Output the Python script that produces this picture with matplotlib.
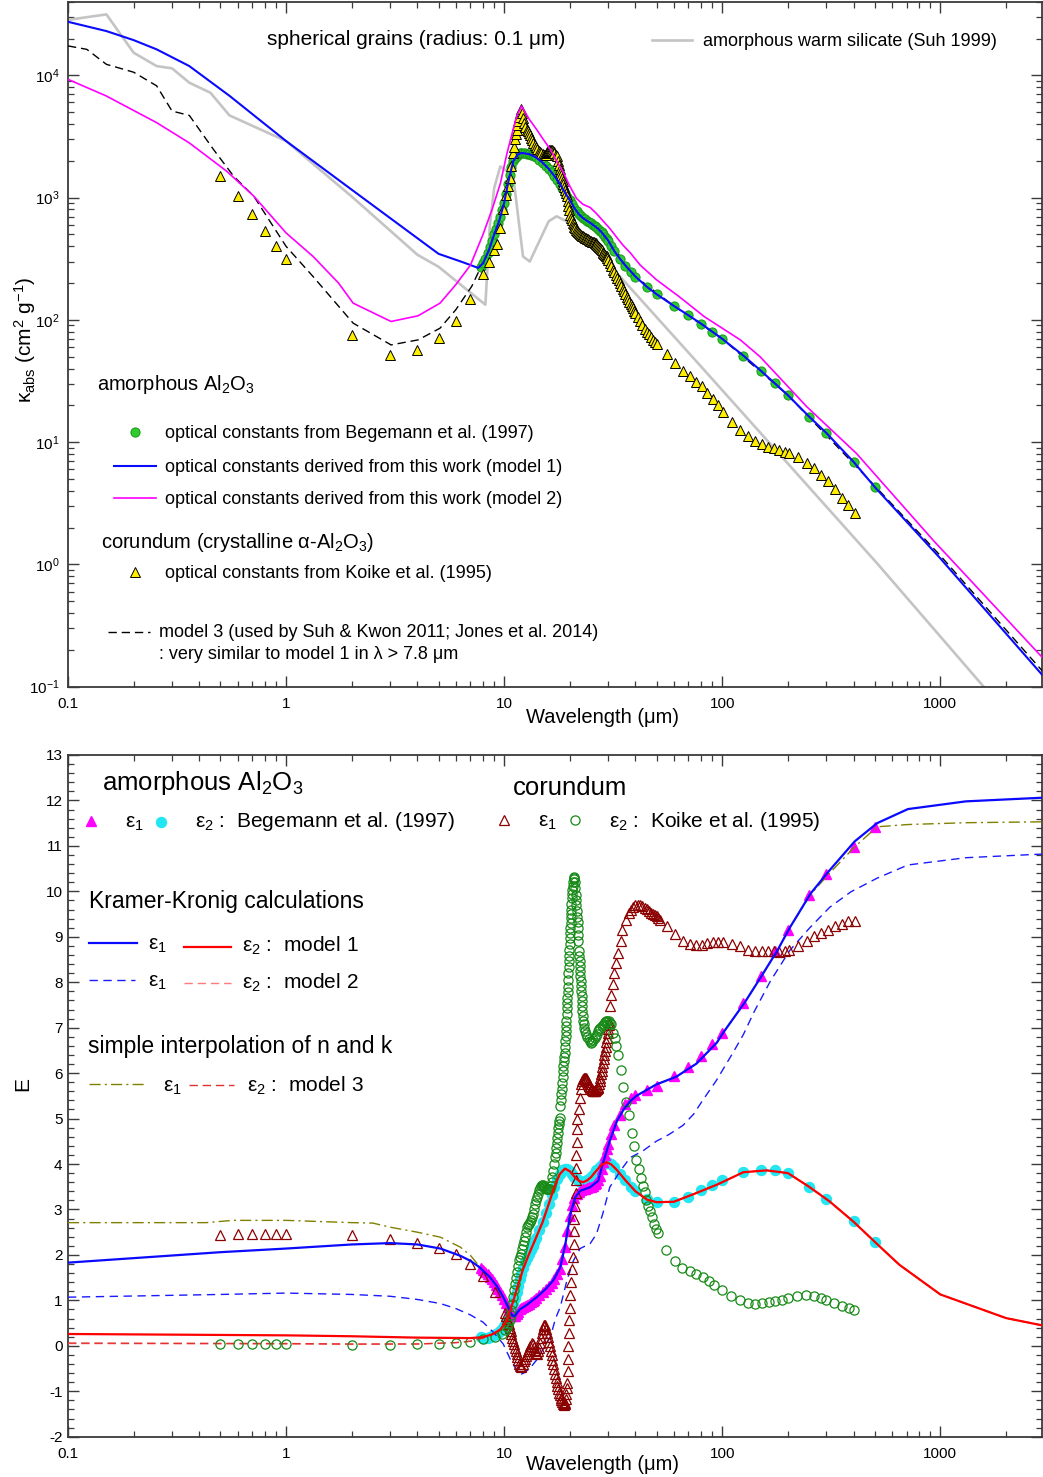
import numpy as np
import matplotlib
matplotlib.use("Agg")
import matplotlib.pyplot as plt
from matplotlib.lines import Line2D
from matplotlib.ticker import LogLocator, MultipleLocator, NullFormatter, FuncFormatter, FixedLocator

plt.rcParams['font.family'] = ['Liberation Sans', 'DejaVu Sans']
plt.rcParams['mathtext.fontset'] = 'custom'
plt.rcParams['mathtext.rm'] = 'Liberation Sans'
plt.rcParams['mathtext.it'] = 'Liberation Sans:italic'
plt.rcParams['mathtext.default'] = 'regular'
plt.rcParams['axes.unicode_minus'] = False

# ---------------- top panel data: kappa_abs (cm^2/g) ----------------
suh_wl = [0.1, 0.15, 0.2, 0.255, 0.3, 0.36, 0.45, 0.55, 1.0, 2.0, 4.0, 5.0, 8.2, 8.6, 9.0, 9.6, 11.0,
          12.2, 13.1, 16.0, 17.4, 20.0, 23.9, 27.6, 34.0, 88.0, 513.0, 1580.0]
suh_k = [2.84e4, 3.15e4, 1.53e4, 1.19e4, 1.14e4, 8.7e3, 7.2e3, 4.7e3, 2.9e3, 1.02e3, 341, 272, 133, 600,
         1.2e3, 1.8e3, 1.5e3, 330, 300, 640, 703, 620, 452, 330, 226, 34.3, 1.02, 0.1]

m1_wl = [0.1, 0.15, 0.2, 0.255, 0.36, 0.55, 1.0, 2.0, 3.0, 5.0, 6.5, 7.6, 8.0, 8.5, 9.0, 9.5, 10.0, 10.5,
         11.0, 11.5, 12.0, 13.0, 14.0, 15.0, 16.0, 17.0, 18.0, 19.0, 20.0, 21.0, 22.0, 23.0, 24.0, 25.0,
         26.0, 27.0, 28.0, 29.0, 30.0, 32.0, 34.0, 36.0, 40.0, 45.0, 50.0, 60.0, 70.0, 80.0, 100.0, 125.0,
         150.0, 200.0, 250.0, 300.0, 400.0, 500.0, 1000.0, 2930.0]
m1_k = [2.74e4, 2.3e4, 1.94e4, 1.63e4, 1.19e4, 6.8e3, 2.9e3, 1.16e3, 680, 347, 295, 266, 290, 370, 500,
        650, 910, 1.4e3, 1.98e3, 2.24e3, 2.32e3, 2.27e3, 2.13e3, 1.93e3, 1.72e3, 1.5e3, 1.3e3, 1.1e3, 950,
        820, 730, 680, 645, 615, 585, 555, 520, 480, 445, 365, 315, 278, 226, 187, 162, 130, 109, 93, 70,
        51, 38.5, 24.2, 16.2, 11.9, 6.9, 4.3, 1.12, 0.125]

m2_wl = [0.1, 0.15, 0.255, 0.36, 0.535, 0.71, 1.0, 1.33, 1.74, 2.03, 3.03, 4.03, 5.08, 6.0, 7.0, 8.0, 8.8,
         9.6, 10.3, 10.8, 11.4, 12.0, 13.0, 14.1, 15.0, 16.3, 17.5, 18.7, 20.0, 21.5, 23.0, 24.8, 26.5,
         28.5, 30.5, 32.9, 35.2, 37.8, 42.1, 49.9, 63.4, 82.9, 121.0, 149.0, 244.0, 412.0, 929.0, 2930.0]
m2_k = [9.27e3, 6.77e3, 4.1e3, 2.8e3, 1.64e3, 1.03e3, 514, 330, 200, 137, 97, 108, 137, 194, 280, 500, 800,
        1.3e3, 2.3e3, 3.2e3, 4.6e3, 5.6e3, 4.4e3, 3.6e3, 3.05e3, 2.47e3, 1.95e3, 1.6e3, 1.24e3, 980, 880,
        830, 740, 640, 560, 470, 405, 355, 280, 213, 155, 106, 68.6, 50, 19.5, 8.1, 1.57, 0.174]

m3_wl = [0.1, 0.122, 0.15, 0.2, 0.255, 0.3, 0.36, 0.465, 0.574, 0.71, 1.0, 1.33, 2.03, 3.03, 4.03, 5.08,
         6.0, 7.1, 7.8, 8.5, 9.5, 10.5, 11.5, 12.0, 14.0, 17.0, 20.0, 25.0, 30.0, 40.0, 60.0, 100.0, 200.0,
         500.0, 1000.0, 2930.0]
m3_k = [1.74e4, 1.63e4, 1.23e4, 1.06e4, 8.2e3, 5.1e3, 4.7e3, 2.47e3, 1.5e3, 1.03e3, 399, 226, 94, 62.4,
        68.6, 85.5, 121, 188, 268, 370, 650, 1.4e3, 2.24e3, 2.32e3, 2.13e3, 1.5e3, 950, 615, 445, 226, 130,
        70, 24.2, 4.4, 1.18, 0.135]

# Begemann et al. (1997) grid (shared by kappa, eps1, eps2)
beg_wl = [7.8, 8.0, 8.2, 8.4, 8.6, 8.8, 9.0, 9.2, 9.4, 9.6, 9.8, 10.0, 10.2, 10.4, 10.6, 10.8, 11.0, 11.2,
          11.4, 11.6, 11.8, 12.0, 12.25, 12.5, 12.75, 13.0, 13.25, 13.5, 13.75, 14.0, 14.5, 15.0, 15.5,
          16.0, 16.5, 17.0, 17.5, 18.0, 18.5, 19.0, 19.5, 20.0, 20.5, 21.0, 21.5, 22.0, 22.5, 23.0, 23.5,
          24.0, 24.5, 25.0, 25.5, 26.0, 26.5, 27.0, 27.5, 28.0, 28.5, 29.0, 29.5, 30.0, 31.0,
          32, 34, 36, 38, 40, 45, 50, 60, 70, 80, 90, 100, 125, 150, 175, 200, 250, 300, 400, 500]
beg_k = [272, 290, 315, 350, 395, 445, 500, 555, 615, 690, 790, 910, 1.07e3, 1.28e3, 1.52e3, 1.78e3,
         1.98e3, 2.1e3, 2.2e3, 2.26e3, 2.3e3, 2.32e3, 2.32e3, 2.31e3, 2.29e3, 2.27e3, 2.24e3, 2.21e3,
         2.17e3, 2.13e3, 2.04e3, 1.93e3, 1.83e3, 1.72e3, 1.61e3, 1.5e3, 1.4e3, 1.3e3, 1.2e3, 1.1e3, 1.02e3,
         950, 880, 820, 770, 730, 705, 680, 662, 645, 630, 615, 600, 585, 570, 555, 538, 520, 500, 480,
         462, 445, 405,
         365, 315, 278, 248, 226, 187, 162, 130, 109, 93, 80, 70, 51, 38.5, 30.3, 24.2, 16.2, 11.9, 6.9, 4.3]
beg_e1 = [1.71, 1.67, 1.62, 1.57, 1.51, 1.46, 1.40, 1.33, 1.26, 1.19, 1.11, 1.03, 0.94, 0.86, 0.78, 0.70,
          0.66, 0.66, 0.70, 0.75, 0.80, 0.83, 0.86, 0.88, 0.90, 0.93, 0.96, 0.98, 1.01, 1.05, 1.12, 1.18,
          1.25, 1.32, 1.39, 1.48, 1.58, 1.70, 1.90, 2.18, 2.52, 2.85, 3.10, 3.25, 3.33, 3.38, 3.42, 3.44,
          3.46, 3.47, 3.49, 3.50, 3.52, 3.55, 3.59, 3.64, 3.74, 3.90, 4.05, 4.20, 4.33, 4.43, 4.65,
          4.85, 5.08, 5.33, 5.45, 5.52, 5.63, 5.72, 5.94, 6.13, 6.37, 6.63, 6.89, 7.54, 8.13, 8.68, 9.15,
          9.91, 10.38, 10.98, 11.42]
beg_e2 = [0.19, 0.17, 0.17, 0.18, 0.19, 0.21, 0.23, 0.26, 0.29, 0.33, 0.38, 0.44, 0.52, 0.60, 0.70, 0.80,
          0.92, 1.05, 1.18, 1.32, 1.46, 1.58, 1.72, 1.85, 1.94, 2.02, 2.11, 2.20, 2.29, 2.38, 2.55, 2.72,
          2.92, 3.12, 3.32, 3.50, 3.66, 3.78, 3.87, 3.90, 3.88, 3.84, 3.78, 3.72, 3.67, 3.63, 3.61, 3.60,
          3.62, 3.64, 3.67, 3.71, 3.76, 3.81, 3.86, 3.90, 3.94, 3.98, 4.01, 4.03, 4.04, 4.03, 3.99,
          3.93, 3.79, 3.64, 3.50, 3.40, 3.22, 3.16, 3.17, 3.28, 3.42, 3.53, 3.64, 3.82, 3.86, 3.86, 3.80,
          3.50, 3.23, 2.75, 2.29]

# Koike et al. (1995) corundum: kappa
ko_wl = [0.5, 0.6, 0.7, 0.8, 0.9, 1.0, 2.0, 3.0, 4.0, 5.0, 6.0, 7.0, 8.0,
         8.5, 9.0, 9.3, 9.6, 9.9, 10.2, 10.4, 10.6, 10.8, 11.0, 11.1, 11.2, 11.3, 11.4, 11.5, 11.6, 11.7,
         11.8, 11.9, 12.0, 12.1, 12.2, 12.3, 12.5, 12.7, 12.85, 13.0, 13.15, 13.3, 13.45, 13.6, 13.8, 14.0,
         14.2, 14.4, 14.6, 14.8, 15.0, 15.2, 15.35, 15.5, 15.65, 15.8, 15.95, 16.1, 16.25, 16.4, 16.55,
         16.7, 16.85, 17.0, 17.2, 17.4, 17.6, 17.8, 17.95, 18.1, 18.25, 18.4, 18.55, 18.7, 18.85, 19.0,
         19.2, 19.4, 19.55, 19.7, 19.85, 20.0, 20.2, 20.4, 20.6, 20.8, 21.0, 21.2, 21.4, 21.6, 21.8, 22.0,
         22.25, 22.5, 22.75, 23.0, 23.25, 23.5, 23.75, 24.0, 24.25, 24.5, 24.75, 25.0, 25.25, 25.5, 25.75,
         26.0, 26.25, 26.5, 26.75, 27.0, 27.25, 27.5, 27.75, 28.0, 28.25, 28.5, 28.75, 29.0, 29.25, 29.5,
         29.75, 30.0, 30.5, 31.0, 31.5, 32.0, 32.5, 33.0, 33.5, 34.0, 34.5, 35.0, 35.5, 36.0, 36.5, 37.0,
         37.5, 38.0, 38.5, 39.0, 39.5, 40.0, 41.0, 42.0, 43.0, 44.0, 45.0, 46.0, 47.0, 48.0, 49.0, 50.0,
         55.7, 60.8, 66.1, 70.8, 76.0, 80.7, 85.5, 90.5, 96.0, 101, 111, 121, 131, 142, 152, 162, 172, 183,
         194, 203, 223, 244, 264, 283, 304, 330, 355, 378, 404]
ko_k = [1500, 1040, 740, 537, 405, 315, 75, 51.6, 56.8, 70.8, 98.6, 149, 238,
        300, 370, 420, 560, 800, 1050, 1250, 1450, 1800, 2300, 2600, 3000, 3300, 3600, 3900, 4200, 4600,
        4940, 5150, 5300, 4900, 4500, 4100, 3800, 3600, 3480, 3390, 3250, 3100, 2950, 2810, 2700, 2600,
        2500, 2390, 2340, 2300, 2270, 2250, 2250, 2250, 2300, 2350, 2400, 2450, 2470, 2470, 2440,
        2400, 2350, 2300, 2240, 2190, 2000, 1850, 1720, 1600, 1520, 1450, 1370, 1300, 1220, 1150,
        1090, 1030, 940, 860, 790, 720, 680, 650, 625, 610, 580, 560, 545, 530, 520, 510,
        502, 495, 488, 482, 476, 470, 465, 460, 455, 450, 445, 440, 436, 433, 430,
        428, 424, 420, 413, 405, 395, 385, 378, 370, 362, 355, 347, 340, 335, 330,
        320, 310, 290, 275, 258, 245, 232, 220, 210, 200, 190, 180, 171, 163, 155, 148,
        141, 135, 130, 124, 119, 114, 105, 98, 91, 85, 80, 76, 72, 68.5, 65.5, 63,
        52.6, 44.1, 38.4, 34.7, 31.2, 28.8, 25.4, 22.5, 20.1, 17.7, 14.7, 12.5, 11.2, 10.3, 9.6, 9.2, 8.9,
        8.6, 8.3, 8.1, 7.5, 6.8, 6.1, 5.4, 4.8, 4.1, 3.5, 3.05, 2.65]

# ---------------- bottom panel data: dielectric functions ----------------
e1m1_wl = [0.1, 0.5, 1.0, 2.0, 3.0, 4.0, 5.1, 6.3, 7.0, 7.7, 8.6, 9.3, 9.9, 10.6, 10.9, 11.2, 11.8, 12.7,
           14.1, 15.5, 16.8, 18.1, 19.1, 20.1, 21.2, 22.3, 24.8, 27.0, 28.3, 30.5, 32.9, 35.3, 37.8, 40.4,
           45.0, 49.8, 61.5, 76.2, 94.4, 101, 127, 152, 179, 204, 254, 305, 405, 513, 710, 1310, 2930]
e1m1 = [1.83, 2.06, 2.14, 2.23, 2.26, 2.23, 2.14, 1.98, 1.87, 1.73, 1.51, 1.30, 1.07, 0.78, 0.66, 0.66,
        0.80, 0.90, 1.07, 1.25, 1.44, 1.73, 2.25, 2.90, 3.27, 3.41, 3.49, 3.63, 4.00, 4.51, 4.95, 5.20,
        5.38, 5.50, 5.63, 5.75, 5.92, 6.21, 6.67, 6.89, 7.56, 8.15, 8.70, 9.20, 9.95, 10.42, 11.10, 11.50,
        11.81, 11.98, 12.06]
e2m1_wl = [0.1, 1.0, 2.0, 4.0, 7.0, 8.0, 8.9, 9.6, 10.3, 11.0, 11.6, 12.2, 13.0, 14.0, 15.0, 16.0, 17.0,
           18.0, 19.0, 20.0, 21.0, 22.0, 23.0, 24.0, 25.0, 26.0, 27.0, 28.0, 29.5, 31.0, 33.0, 36.0, 40.0,
           45.0, 50.0, 60.0, 75.0, 95.0, 125.0, 160.0, 200.0, 250.0, 310.0, 400.0, 510.0, 650.0, 1000.0,
           2000.0, 2930.0]
e2m1 = [0.26, 0.23, 0.21, 0.18, 0.17, 0.19, 0.26, 0.36, 0.56, 0.98, 1.35, 1.68, 2.02, 2.38, 2.72, 3.12,
        3.50, 3.78, 3.90, 3.84, 3.72, 3.63, 3.60, 3.64, 3.71, 3.81, 3.90, 3.98, 4.04, 3.99, 3.86, 3.64,
        3.40, 3.22, 3.16, 3.17, 3.35, 3.55, 3.82, 3.86, 3.80, 3.50, 3.18, 2.73, 2.25, 1.78, 1.13, 0.61, 0.45]
e1m2_wl = [0.1, 0.5, 1.0, 2.0, 3.0, 4.0, 5.1, 6.0, 7.0, 8.0, 9.0, 9.9, 10.8, 11.8, 12.5, 13.2, 14.1, 15.2,
           16.3, 17.2, 18.1, 19.4, 20.8, 22.3, 24.8, 26.5, 28.3, 30.5, 34.1, 37.8, 43.3, 49.8, 57.0, 66.0,
           74.0, 80.0, 94.0, 112, 125, 140, 166, 204, 251, 311, 389, 513, 710, 1310, 2930]
e1m2 = [1.07, 1.13, 1.16, 1.13, 1.09, 1.02, 0.93, 0.82, 0.68, 0.52, 0.28, 0.04, -0.35, -0.64, -0.58,
        -0.48, -0.31, -0.05, 0.20, 0.60, 0.86, 1.44, 1.88, 2.14, 2.25, 2.46, 2.90, 3.49, 3.85, 4.14, 4.29,
        4.50, 4.65, 4.85, 5.10, 5.35, 5.84, 6.45, 6.85, 7.35, 8.02, 8.70, 9.19, 9.65, 9.99, 10.29, 10.58,
        10.74, 10.82]
e2m2_wl = [0.1, 1.0, 2.0, 4.0, 6.0, 7.0, 8.0, 8.9, 9.6, 10.3, 11.0, 11.6, 12.2, 13.0, 14.0, 15.0, 16.0,
           17.0, 18.0, 19.0, 20.0, 21.0, 22.0, 23.0, 24.0, 25.0, 26.0, 27.0, 28.0, 29.5, 31.0, 33.0, 36.0,
           40.0, 45.0, 50.0, 60.0, 75.0, 95.0, 125.0, 160.0, 200.0, 250.0, 310.0, 400.0, 510.0, 650.0,
           1000.0, 2000.0, 2930.0]
e2m2 = [0.05, 0.04, 0.03, 0.04, 0.07, 0.10, 0.17, 0.26, 0.36, 0.56, 0.98, 1.35, 1.68, 2.02, 2.38, 2.72,
        3.12, 3.50, 3.78, 3.90, 3.84, 3.72, 3.63, 3.60, 3.64, 3.71, 3.81, 3.90, 3.98, 4.04, 3.99, 3.86,
        3.64, 3.40, 3.22, 3.16, 3.17, 3.35, 3.55, 3.82, 3.86, 3.80, 3.50, 3.18, 2.73, 2.25, 1.78, 1.13, 0.61,
        0.45]
e1m3_wl = [0.1, 0.43, 0.57, 1.0, 2.0, 2.5, 3.0, 4.0, 5.1, 6.3, 7.0, 7.7, 8.6, 9.3, 9.9, 10.6, 10.9, 11.2,
           11.8, 12.7, 14.1, 15.5, 16.8, 18.1, 19.1, 20.1, 21.2, 22.3, 24.8, 27.0, 28.3, 30.5, 32.9, 35.3,
           40.4, 49.8, 61.5, 76.2, 94.4, 101, 127, 152, 179, 204, 254, 305, 405, 513, 710, 1310, 2930]
e1m3 = [2.71, 2.71, 2.76, 2.76, 2.71, 2.70, 2.61, 2.50, 2.39, 2.17, 1.99, 1.75, 1.51, 1.30, 1.07, 0.78,
        0.66, 0.66, 0.80, 0.90, 1.07, 1.25, 1.44, 1.73, 2.25, 2.90, 3.27, 3.41, 3.49, 3.63, 4.00, 4.51,
        4.95, 5.20, 5.50, 5.75, 5.92, 6.21, 6.67, 6.89, 7.56, 8.15, 8.70, 9.20, 9.93, 10.36, 10.98, 11.42,
        11.47, 11.51, 11.53]
e2m3_wl = [0.1, 1.0, 2.0, 4.0, 6.0, 7.0, 8.0, 8.9, 9.6, 10.3, 11.0, 11.6, 12.2, 13.0, 14.0, 15.0, 16.0,
           17.0, 18.0, 19.0, 20.0, 21.0, 22.0, 23.0, 24.0, 25.0, 26.0, 27.0, 28.0, 29.5, 31.0, 33.0, 36.0,
           40.0, 45.0, 50.0, 60.0, 75.0, 95.0, 125.0, 160.0, 200.0, 250.0, 310.0, 400.0, 510.0, 650.0,
           1000.0, 2000.0, 2930.0]
e2m3 = [0.06, 0.05, 0.04, 0.04, 0.07, 0.10, 0.17, 0.26, 0.36, 0.56, 0.98, 1.35, 1.68, 2.02, 2.38, 2.72,
        3.12, 3.50, 3.78, 3.90, 3.84, 3.72, 3.63, 3.60, 3.64, 3.71, 3.81, 3.90, 3.98, 4.04, 3.99, 3.86,
        3.64, 3.40, 3.22, 3.16, 3.17, 3.35, 3.55, 3.82, 3.86, 3.80, 3.50, 3.18, 2.73, 2.25, 1.78, 1.13, 0.61,
        0.45]

# Koike eps1 (corundum)
ke1_wl = [0.5, 0.6, 0.7, 0.8, 0.9, 1.0, 2.0, 3.0, 4.0, 5.0, 6.0, 7.0, 8.0, 9.1,
          10.1, 10.2, 10.3, 10.4, 10.5, 10.6, 10.7, 10.8, 10.9, 11.0, 11.1, 11.2, 11.3, 11.4, 11.5, 11.6,
          11.7, 11.8, 11.9, 12.0, 12.15, 12.3, 12.45, 12.6, 12.75, 12.9, 13.05, 13.2, 13.35, 13.5, 13.65,
          13.8, 13.95, 14.1, 14.25, 14.4, 14.55, 14.7, 14.85, 15.0, 15.15, 15.3, 15.45, 15.6, 15.75, 15.9,
          16.05, 16.2, 16.35, 16.5, 16.65, 16.8, 16.95, 17.1, 17.25, 17.4, 17.55, 17.7, 17.85, 18.0, 18.15,
          18.3, 18.45, 18.6, 18.75, 18.9, 19.0, 19.1, 19.2, 19.3, 19.4,
          19.5, 19.55, 19.6, 19.7, 19.8, 19.85, 20.0, 20.1, 20.3, 20.5, 20.7, 20.8, 20.9, 21.0, 21.15, 21.25,
          21.35, 21.4, 21.45, 21.5, 21.55, 21.6,
          22.0, 22.2, 22.4, 22.6, 22.8, 23.0, 23.2, 23.4, 23.6, 23.8, 24.0, 24.2, 24.4, 24.6, 24.8, 25.0,
          25.2, 25.4, 25.6, 25.8, 26.0, 26.2, 26.4, 26.6, 26.8, 27.0, 27.2, 27.4, 27.6, 27.8, 28.0, 28.2,
          28.4, 28.6, 28.8, 29.0, 29.2, 29.4, 29.6, 29.8, 30.0, 30.2, 30.4,
          30.7, 31.0, 31.5, 32.0, 32.7, 33.2, 34.2, 34.8, 36.1, 37.3, 38.0, 39.0, 40.0, 41.0, 42.0, 43.0,
          44.0, 45.0, 46.0, 47.0, 48.0, 49.0, 50.0, 51.0, 52.0,
          55.7, 60.8, 66.1, 70.8, 76.0, 80.7, 85.5, 90.5, 96.0, 101, 111, 121, 131, 142, 152, 162, 172, 183,
          194, 203, 223, 244, 264, 283, 304, 330, 355, 378, 404]
ke1 = [2.43, 2.46, 2.46, 2.46, 2.46, 2.46, 2.43, 2.36, 2.27, 2.15, 2.01, 1.79, 1.53, 1.18,
       0.72, 0.66, 0.60, 0.54, 0.47, 0.40, 0.33, 0.26, 0.18, 0.10, 0.03, -0.04, -0.11, -0.18, -0.25, -0.32,
       -0.39, -0.44, -0.46, -0.44, -0.39, -0.33, -0.28, -0.23, -0.18, -0.12, -0.06, 0.00, 0.06, 0.05, -0.03,
       -0.10, -0.15, -0.17, -0.12, -0.04, 0.06, 0.17, 0.28, 0.37, 0.43, 0.46, 0.45, 0.38, 0.29, 0.19,
       0.09, -0.01, -0.11, -0.21, -0.31, -0.41, -0.51, -0.61, -0.71, -0.80, -0.88, -0.96, -1.03, -1.09, -1.15,
       -1.20, -1.24, -1.27, -1.29, -1.30, -1.29, -1.25, -1.17, -1.06, -0.92,
       -0.82, -0.55, -0.28, 0.00, 0.28, 0.56, 0.84, 1.12, 1.40, 1.68, 1.96, 2.24, 2.52, 2.80, 3.08, 3.36,
       3.64, 3.92, 4.20, 4.48, 4.76, 5.00,
       5.21, 5.45, 5.65, 5.76, 5.83, 5.88, 5.90, 5.90, 5.89, 5.87, 5.84, 5.80, 5.76, 5.72, 5.69, 5.66,
       5.64, 5.62, 5.61, 5.61, 5.61, 5.62, 5.63, 5.65, 5.67, 5.70, 5.75, 5.82, 5.89, 5.97, 6.05, 6.14,
       6.23, 6.31, 6.40, 6.48, 6.58, 6.68, 6.78, 6.88, 6.97, 7.05, 7.13,
       7.47, 7.71, 7.96, 8.20, 8.42, 8.64, 8.91, 9.15, 9.37, 9.52, 9.60, 9.65, 9.69, 9.70, 9.70, 9.67,
       9.64, 9.61, 9.57, 9.53, 9.50, 9.47, 9.45, 9.42, 9.38,
       9.23, 9.06, 8.91, 8.85, 8.81, 8.81, 8.86, 8.88, 8.88, 8.88, 8.84, 8.79, 8.71, 8.68, 8.68, 8.68, 8.68,
       8.66, 8.68, 8.71, 8.79, 8.90, 9.02, 9.08, 9.15, 9.23, 9.28, 9.34, 9.34]

# Koike eps2 (corundum)
ke2_wl = [0.5, 0.6, 0.7, 0.8, 0.9, 1.0, 2.0, 3.0, 4.0, 5.0, 6.0, 7.0, 8.0, 9.1,
          9.8, 10.1, 10.3, 10.45, 10.6, 10.7, 10.8, 10.9, 11.0, 11.1, 11.2, 11.3, 11.4, 11.55, 11.7, 11.85,
          12.0, 12.1, 12.2, 12.3, 12.4, 12.55, 12.7, 12.85, 13.0, 13.15, 13.3, 13.4, 13.5, 13.65, 13.8,
          13.95, 14.1, 14.25, 14.4, 14.55, 14.7, 14.85, 15.0, 15.15, 15.3, 15.45, 15.6, 15.75, 15.9, 16.05,
          16.2, 16.35, 16.5, 16.65, 16.8, 16.95, 17.1, 17.2, 17.3, 17.4, 17.5, 17.6, 17.7, 17.8, 17.9, 18.0,
          18.1, 18.2, 18.3, 18.4, 18.5, 18.55, 18.6, 18.7, 18.8, 18.9, 19.0, 19.05, 19.1, 19.15, 19.2, 19.25,
          19.3, 19.35, 19.4, 19.45, 19.5, 19.55, 19.6, 19.65, 19.7, 19.75, 19.8, 19.85, 19.9, 19.95, 20.0,
          20.05, 20.1, 20.15, 20.2, 20.25, 20.3, 20.35, 20.4, 20.45, 20.5, 20.6, 20.7, 20.8, 20.9, 21.0,
          21.1, 21.2, 21.3, 21.35, 21.4, 21.5, 21.6, 21.7, 21.8, 21.85, 21.9, 22.0, 22.1, 22.2, 22.25, 22.3,
          22.35, 22.4, 22.5, 22.6, 22.65, 22.7, 22.75, 22.8, 22.9, 23.0, 23.15, 23.3, 23.5, 23.7, 24.0,
          24.4, 24.7, 25.0, 25.3, 25.6, 26.0, 26.3, 26.6, 27.0, 27.3, 27.6, 28.0, 28.3, 28.6, 29.0, 29.3,
          29.6, 30.1, 30.5, 30.9, 31.5, 32.2, 32.6, 33.3, 34.2, 35.2, 36.2, 37.2, 38.7, 39.5, 40.4, 41.4,
          42.4, 43.3, 44.0, 44.7, 45.5, 46.6, 47.6, 48.7, 49.8, 50.8,
          55.5, 60.8, 65.2, 70.8, 76.0, 81.4, 86.6, 92.0, 100, 110, 121, 131, 142, 152, 163, 175, 187, 200,
          221, 241, 264, 283, 300, 327, 354, 380, 400]
ke2 = [0.05, 0.05, 0.04, 0.04, 0.04, 0.04, 0.02, 0.02, 0.03, 0.04, 0.06, 0.08, 0.14, 0.20,
       0.27, 0.35, 0.42, 0.49, 0.56, 0.67, 0.78, 0.93, 1.07, 1.22, 1.37, 1.50, 1.62, 1.76, 1.88, 1.96,
       2.03, 2.12, 2.21, 2.30, 2.39, 2.50, 2.61, 2.66, 2.69, 2.72, 2.76, 2.83, 2.91, 3.02, 3.13,
       3.20, 3.27, 3.35, 3.42, 3.47, 3.51, 3.53, 3.53, 3.52, 3.50, 3.48, 3.46, 3.45, 3.45, 3.45,
       3.46, 3.52, 3.60, 3.72, 3.85, 4.00, 4.15, 4.25, 4.36, 4.47, 4.58, 4.69, 4.80, 4.88, 4.95, 5.02,
       5.28, 5.41, 5.54, 5.66, 5.79, 5.92, 6.05, 6.16, 6.27, 6.36, 6.45, 6.58, 6.70, 6.82, 6.93, 7.04,
       7.15, 7.30, 7.44, 7.55, 7.66, 7.78, 7.90, 8.05, 8.20, 8.33, 8.46, 8.58, 8.71, 8.84, 8.97,
       9.08, 9.19, 9.30, 9.41, 9.50, 9.59, 9.72, 9.85, 9.94, 10.03, 10.12, 10.21, 10.28, 10.32, 10.30,
       10.21, 10.07, 9.92, 9.81, 9.70, 9.57, 9.44, 9.32, 9.19, 9.04, 8.90, 8.68, 8.57, 8.46, 8.35, 8.24,
       8.13, 8.02, 7.91, 7.80, 7.69, 7.58, 7.47, 7.36, 7.25, 7.14, 7.07, 7.00, 6.92, 6.85, 6.79,
       6.74, 6.70, 6.67, 6.69, 6.72, 6.78, 6.82, 6.87, 6.92, 6.96, 6.99, 7.03, 7.06, 7.09, 7.13, 7.14,
       7.15, 7.14, 7.10, 7.07, 6.89, 6.78, 6.59, 6.40, 6.06, 5.69, 5.37, 5.08, 4.69, 4.40, 4.09, 3.89,
       3.69, 3.52, 3.38, 3.21, 3.08, 2.97, 2.83, 2.68, 2.57, 2.49,
       2.10, 1.87, 1.72, 1.64, 1.57, 1.51, 1.43, 1.34, 1.22, 1.09, 1.01, 0.95, 0.93, 0.95, 0.97, 0.98, 1.01,
       1.05, 1.09, 1.11, 1.09, 1.05, 1.01, 0.95, 0.88, 0.84, 0.78]

# ---------------- figure ----------------
W, H = 1043, 1477
fig = plt.figure(figsize=(W / 100, H / 100), dpi=100)
axL = 68 / W
axW = (W - 68) / W - 0.0008
ax1 = fig.add_axes([axL, 1 - 686.7 / H, axW, 685.0 / H])
ax2 = fig.add_axes([axL, 1 - 1436.7 / H, axW, 681.7 / H])

SPINE = '#3a3a3a'
for ax in (ax1, ax2):
    ax.set_xscale('log')
    ax.set_xlim(0.1, 2930)
    for s in ax.spines.values():
        s.set_color(SPINE)
        s.set_linewidth(1.3)
    ax.tick_params(which='both', direction='in', top=True, right=True, color=SPINE, labelsize=11)
    ax.tick_params(which='major', length=8, width=1.0)
    ax.tick_params(which='minor', length=4.5, width=0.9)
    ax.xaxis.set_major_locator(FixedLocator([0.1, 1, 10, 100, 1000]))
    ax.xaxis.set_minor_locator(LogLocator(base=10, subs=np.arange(2, 10)))
    ax.xaxis.set_minor_formatter(NullFormatter())
    ax.xaxis.set_major_formatter(FuncFormatter(lambda v, p: {0.1: '0.1', 1: '1', 10: '10', 100: '100',
                                                             1000: '1000'}.get(round(v, 1), '')))
    ax.tick_params(axis='x', which='major', pad=7.5)

# top panel
ax1.set_yscale('log')
ax1.set_ylim(0.1, 4e4)
ax1.yaxis.set_major_locator(FixedLocator([0.1, 1, 10, 100, 1000, 10000]))
ax1.yaxis.set_minor_locator(LogLocator(base=10, subs=np.arange(2, 10)))
ax1.yaxis.set_minor_formatter(NullFormatter())
ax1.yaxis.set_major_formatter(FuncFormatter(lambda v, p: '10$^{%d}$' % int(round(np.log10(v)))))
ax1.tick_params(axis='y', which='major', pad=6)

ax1.plot(suh_wl, suh_k, color='#c4c4c4', lw=1.9, zorder=2)
ax1.plot(m3_wl, m3_k, color='black', lw=1.0, ls=(0, (6, 3.5)), zorder=3)
ax1.plot(beg_wl, beg_k, ls='none', marker='o', ms=6.6, mfc='#2ecc2e', mec='#1a961a', mew=0.7, zorder=4)
ax1.plot(ko_wl, ko_k, ls='none', marker='^', ms=6.6, mfc='#ffee00', mec='black', mew=0.7, zorder=5)
ax1.plot(m1_wl, m1_k, color='#0a0aff', lw=1.5, zorder=6)
ax1.plot(m2_wl, m2_k, color='#ff00ff', lw=1.2, zorder=7)

ax1.set_ylabel('κ$_{abs}$ (cm$^{2}$ g$^{-1}$)', fontsize=15)
ax1.yaxis.set_label_coords((25 - 68) / 975, (686.7 - 340) / 685)
ax1.yaxis.label.set_va('center')
ax1.set_xlabel('Wavelength (μm)', fontsize=14.5)
ax1.xaxis.set_label_coords((603 - 68) / 975, (686.7 - 723) / 685)
ax1.xaxis.label.set_va('baseline')

# bottom panel
ax2.set_ylim(-2, 13)
ax2.yaxis.set_major_locator(MultipleLocator(1))
ax2.yaxis.set_minor_locator(MultipleLocator(0.2))
ax2.yaxis.set_major_formatter(FuncFormatter(lambda v, p: '%d' % int(round(v))))
ax2.tick_params(axis='y', which='major', pad=4)

ax2.plot(beg_wl, beg_e2, ls='none', marker='o', ms=7.2, mfc='#22e6f2', mec='#22e6f2', zorder=2)
ax2.plot(beg_wl, beg_e1, ls='none', marker='^', ms=6.8, mfc='#ff00ff', mec='#ff00ff', zorder=2)
ax2.plot(e2m2_wl, e2m2, color='#ff7a7a', lw=1.0, ls=(0, (6, 3.5)), zorder=3)
ax2.plot(e2m3_wl, e2m3, color='#e03030', lw=1.0, ls=(0, (6, 3.5)), zorder=3)
ax2.plot(e1m2_wl, e1m2, color='#1a1aff', lw=1.0, ls=(0, (6, 4)), zorder=3)
ax2.plot(ke1_wl, ke1, ls='none', marker='^', ms=6.6, mfc='none', mec='#8b0000', mew=0.9, zorder=4)
ax2.plot(ke2_wl, ke2, ls='none', marker='o', ms=6.6, mfc='none', mec='#178a17', mew=0.9, zorder=4)
ax2.plot(e1m3_wl, e1m3, color='#808000', lw=1.0, ls=(0, (8, 3, 1.5, 3)), zorder=5)
ax2.plot(e1m1_wl, e1m1, color='#0a0aff', lw=1.6, zorder=6)
ax2.plot(e2m1_wl, e2m1, color='#ff0000', lw=1.6, zorder=6)

ax2.set_ylabel('E', fontsize=15)
ax2.yaxis.set_label_coords((23 - 68) / 975, (1436.7 - 1084) / 681.7)
ax2.yaxis.label.set_va('center')
ax2.set_xlabel('Wavelength (μm)', fontsize=14.5)
ax2.xaxis.set_label_coords((603 - 68) / 975, (1436.7 - 1470) / 681.7)
ax2.xaxis.label.set_va('baseline')


# ---------------- annotations / legend samples ----------------
def T(x, y, s, fs, **kw):
    fig.text(x / W, 1 - y / H, s, fontsize=fs, ha='left', va='baseline', **kw)


def L(x0, x1, y, **kw):
    fig.add_artist(Line2D([x0 / W, x1 / W], [1 - y / H, 1 - y / H], transform=fig.transFigure, **kw))


def M(x, y, **kw):
    fig.add_artist(Line2D([x / W], [1 - y / H], transform=fig.transFigure, ls='none', **kw))


T(267, 45, 'spherical grains (radius: 0.1 μm)', 15)
L(652, 692, 40, color='#c4c4c4', lw=1.9)
T(703, 46, 'amorphous warm silicate (Suh 1999)', 13)
T(97, 390, 'amorphous Al$_2$O$_3$', 14.5)
M(134.5, 431.7, marker='o', ms=6.6, mfc='#2ecc2e', mec='#1a961a', mew=0.7)
T(165, 437.5, 'optical constants from Begemann et al. (1997)', 13)
L(114, 156, 466, color='#0a0aff', lw=1.5)
T(165, 471.5, 'optical constants derived from this work (model 1)', 13)
L(114, 156, 498, color='#ff00ff', lw=1.2)
T(165, 504, 'optical constants derived from this work (model 2)', 13)
T(101, 548.5, 'corundum (crystalline α-Al$_2$O$_3$)', 14.5)
M(135, 571.7, marker='^', ms=6.6, mfc='#ffee00', mec='black', mew=0.7)
T(165, 578.3, 'optical constants from Koike et al. (1995)', 13)
L(107.5, 149.5, 631.7, color='black', lw=1.0, ls=(0, (6, 3.5)))
T(159, 636.7, 'model 3 (used by Suh & Kwon 2011; Jones et al. 2014)', 13)
T(159, 659, ': very similar to model 1 in λ > 7.8 μm', 13)

T(102, 790, 'amorphous Al$_2$O$_3$', 18.5)
M(90.7, 821, marker='^', ms=6.8, mfc='#ff00ff', mec='#ff00ff')
T(125, 827.3, 'ε$_1$', 15)
M(160.7, 821.7, marker='o', ms=7.2, mfc='#22e6f2', mec='#22e6f2')
T(195, 827.3, 'ε$_2$ :  Begemann et al. (1997)', 15)
T(513, 795, 'corundum', 18.5)
M(504, 820, marker='^', ms=6.6, mfc='none', mec='#8b0000', mew=0.9)
T(538, 827, 'ε$_1$', 15)
M(575, 820, marker='o', ms=6.6, mfc='none', mec='#178a17', mew=0.9)
T(609, 827, 'ε$_2$ :  Koike et al. (1995)', 15)
T(89, 908.3, 'Kramer-Kronig calculations', 16.5)
L(89.3, 136.7, 943.3, color='#0a0aff', lw=1.6)
T(148, 950, 'ε$_1$', 15)
L(184, 231, 946.7, color='#ff0000', lw=1.6)
T(242, 951.7, 'ε$_2$ :  model 1', 15)
L(89.3, 135, 980, color='#1a1aff', lw=1.0, ls=(0, (6, 4)))
T(148, 986.7, 'ε$_1$', 15)
L(184, 231, 982.7, color='#ff7a7a', lw=1.0, ls=(0, (6, 3.5)))
T(242, 988.3, 'ε$_2$ :  model 2', 15)
T(88, 1053.3, 'simple interpolation of n and k', 16.5)
L(89.3, 146.7, 1084, color='#808000', lw=1.0, ls=(0, (8, 3, 1.5, 3)))
T(163, 1091.7, 'ε$_1$', 15)
L(188.7, 234, 1085, color='#e03030', lw=1.0, ls=(0, (6, 3.5)))
T(247, 1091.7, 'ε$_2$ :  model 3', 15)

fig.savefig('out.png', dpi=100)
